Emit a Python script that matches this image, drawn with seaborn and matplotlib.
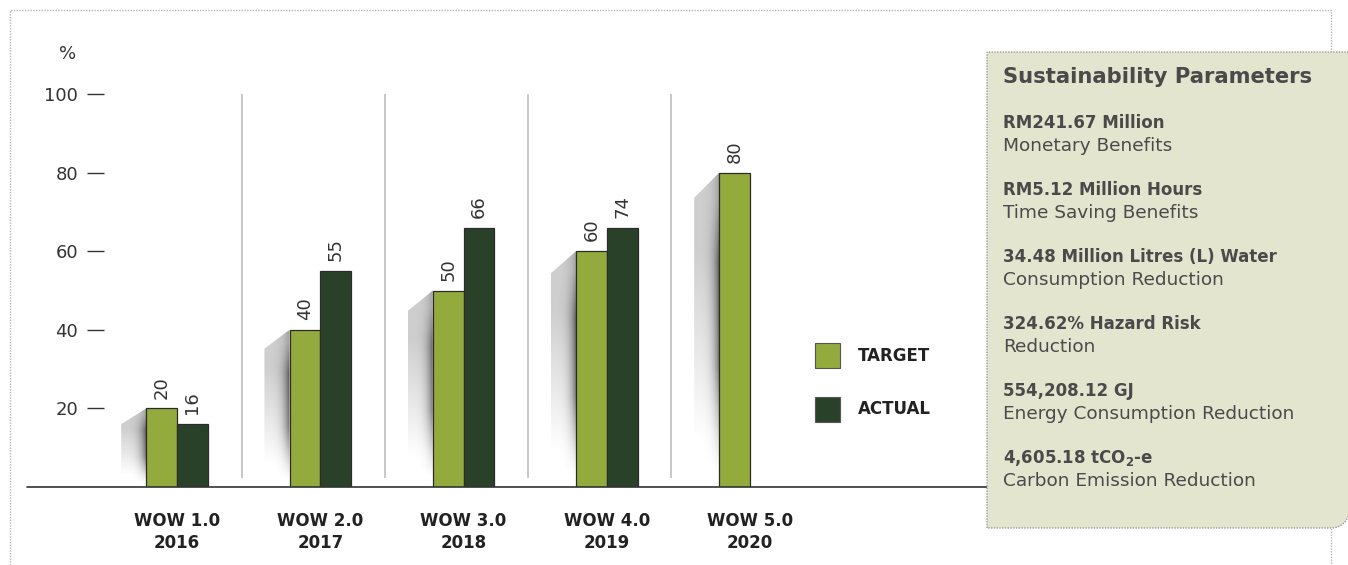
import numpy as np
import pandas as pd
import matplotlib
matplotlib.use("Agg")
import matplotlib.pyplot as plt
import seaborn as sns
from matplotlib.patches import Patch, Polygon
from matplotlib.lines import Line2D

# data
categories = ["WOW 1.0\n2016", "WOW 2.0\n2017", "WOW 3.0\n2018", "WOW 4.0\n2019", "WOW 5.0\n2020"]
target = [20, 40, 50, 60, 80]
actual = [16, 55, 66, 66, np.nan]      # 2019 bar is drawn at 66 in the original, labelled 74
target_labels = ["20", "40", "50", "60", "80"]
actual_labels = ["16", "55", "66", "74", ""]
yticks = [20, 40, 60, 80, 100]

param_values = ["RM241.67 Million", "RM5.12 Million Hours", "34.48 Million Litres (L) Water",
                "324.62% Hazard Risk", "554,208.12 GJ", r"4,605.18 tCO$_{\mathbf{2}}$-e"]
param_labels = ["Monetary Benefits", "Time Saving Benefits", "Consumption Reduction",
                "Reduction", "Energy Consumption Reduction", "Carbon Emission Reduction"]

c_target = "#93AB3D"
c_actual = "#2A4129"
c_panel = "#E3E5CF"
c_text = "#333333"

df = pd.DataFrame({
    "wow": categories * 2,
    "series": ["TARGET"] * 5 + ["ACTUAL"] * 5,
    "value": target + actual,
})

sns.set_style("white")
plt.rcParams["font.family"] = ["DejaVu Sans"]

W, H = 1348, 565
fig = plt.figure(figsize=(W / 100, H / 100), dpi=100)


def fx(x):
    return x / W


def fy(y):
    return 1 - y / H


ax = fig.add_axes([fx(104), fy(487), (987 - 104) / W, (487 - 94) / H])

sns.barplot(data=df, x="wow", y="value", hue="series", hue_order=["TARGET", "ACTUAL"],
            palette=[c_target, c_actual], saturation=1, width=0.43,
            edgecolor="#2b2b2b", linewidth=0.9, legend=False, ax=ax, zorder=3)

# value labels
for cont, labs in zip(ax.containers, [target_labels, actual_labels]):
    for p, lab in zip(cont, labs):
        if p is None or not lab:
            continue
        ax.annotate(lab, (p.get_x() + p.get_width() / 2, p.get_height()),
                    xytext=(0, 7), textcoords="offset points", ha="center", va="bottom",
                    rotation=90, fontsize=13, color=c_text)

# soft grey shadow on the left of each target bar
ny, nx = 160, 60
u = np.linspace(0, 1, nx)[None, :]
v = np.linspace(0, 1, ny)[:, None]
light = 0.24 * np.clip((v - 0.15) / 0.6, 0, 1)
dark = 0.65 * u ** 4 * np.clip((v - 0.05) * 3, 0, 1) * np.clip((1.05 - v) * 3, 0.4, 1)
alpha = np.clip(light + dark, 0, 0.9)
grad = np.zeros((ny, nx, 4))
grad[..., :3] = 0.2
grad[..., 3] = alpha
sw = 0.175
for p in ax.containers[0]:
    x0 = p.get_x()
    top = p.get_height()
    slant = 3.2 + 0.04 * top
    im = ax.imshow(grad, extent=[x0 - sw, x0, 0, top], origin="lower",
                   aspect="auto", interpolation="bilinear", zorder=1)
    clip = Polygon([(x0, top), (x0 - sw, top - slant), (x0 - sw, 0), (x0, 0)],
                   closed=True, transform=ax.transData, facecolor="none", edgecolor="none")
    im.set_clip_path(clip)

# thin separators between groups
ax.vlines([i + 0.45 for i in range(len(categories) - 1)], 2.3, 100,
          color="#bdbdbd", lw=1.2, zorder=0)

ax.set_xlim(-0.51, 5.654)
ax.set_ylim(0, 100)
ax.set_yticks(yticks)
ax.set_yticklabels([str(t) for t in yticks], fontsize=13, color=c_text)
ax.tick_params(axis="y", length=12.2, width=1, color=c_text, pad=6.5, left=True)
ax.set_xticks(range(len(categories)))
ax.set_xticklabels(categories, fontsize=12, fontweight="bold", color="#222222")
ax.tick_params(axis="x", length=0, pad=18)
for t in ax.get_xticklabels():
    t.set_linespacing(1.3)
ax.set_xlabel("")
ax.set_ylabel("")
for s in ax.spines.values():
    s.set_visible(False)
ax.patch.set_alpha(0)

fig.text(fx(68), fy(54), "%", ha="center", va="center", fontsize=13, color=c_text)

# baseline
fig.add_artist(Line2D([fx(27), fx(995)], [fy(487), fy(487)], transform=fig.transFigure,
                      color="#333333", lw=1.2, zorder=2))

# outer dotted frame
fig.add_artist(Line2D([fx(10), fx(10), fx(1331), fx(1331)], [fy(565), fy(10), fy(10), fy(565)],
                      transform=fig.transFigure, color="#b5b5b5", lw=1,
                      linestyle=(0, (1, 1)), zorder=1))

# legend
handles = [Patch(facecolor=c_target, edgecolor="#555555", lw=0.8),
           Patch(facecolor=c_actual, edgecolor="#555555", lw=0.8)]
leg = fig.legend(handles, ["TARGET", "ACTUAL"], loc="upper left",
                 bbox_to_anchor=(fx(815), fy(343)), frameon=False, borderpad=0,
                 borderaxespad=0, handlelength=1.5, handleheight=1.9, handletextpad=1.1,
                 labelspacing=1.75, prop={"weight": "bold", "size": 12})
for t in leg.get_texts():
    t.set_color("#222222")

# side panel with rounded bottom-right corner
r = 18
ang = np.linspace(0, np.pi / 2, 12)
cx, cy = 1349.5 - r, 528 - r
pts = [(987, 528), (987, 52), (1349.5, 52)] + \
      [(cx + r * np.cos(a), cy + r * np.sin(a)) for a in ang]
panel = Polygon([(fx(x), fy(y)) for x, y in pts], closed=True, transform=fig.transFigure,
                facecolor=c_panel, edgecolor="#9a9a9a", lw=1, linestyle=(0, (1, 1)), zorder=5)
fig.add_artist(panel)

fig.text(fx(1003), fy(77), "Sustainability Parameters", ha="left", va="center",
         fontsize=15.2, fontweight="bold", color="#4a4a4a", zorder=6)
for i, (val, lab) in enumerate(zip(param_values, param_labels)):
    yb = 123 + 67 * i
    fig.text(fx(1003), fy(yb), val, ha="left", va="center", fontsize=12,
             fontweight="bold", color="#4a4a4a", zorder=6)
    fig.text(fx(1003), fy(yb + 23), lab, ha="left", va="center", fontsize=13.3,
             color="#4a4a4a", zorder=6)

fig.savefig("out.png", dpi=100)
